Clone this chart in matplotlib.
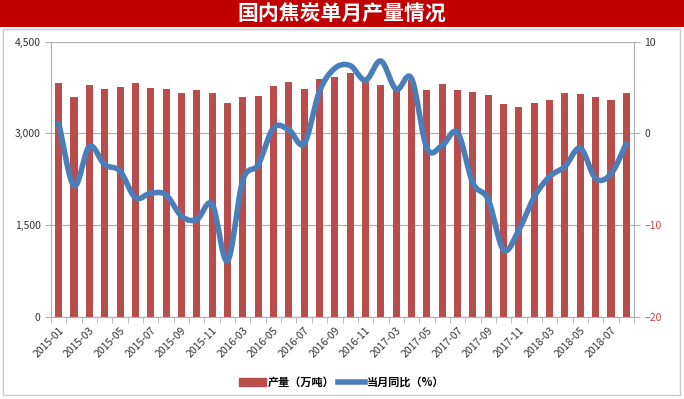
import matplotlib
matplotlib.use("Agg")
import matplotlib.pyplot as plt
from matplotlib.patches import Rectangle
from matplotlib.lines import Line2D
import numpy as np

plt.rcParams['font.family'] = ['Noto Sans CJK SC', 'DejaVu Sans']

# months (Jan/Feb of 2016-2018 are reported together, so they are missing)
months = (['2015-%02d' % m for m in range(1, 13)] +
          ['2016-%02d' % m for m in range(3, 13)] +
          ['2017-%02d' % m for m in range(3, 13)] +
          ['2018-%02d' % m for m in range(3, 9)])

# monthly coke output (10k tonnes)
output = [3820, 3590, 3785, 3725, 3760, 3830, 3750, 3725, 3660, 3710,
          3660, 3505, 3600, 3615, 3775, 3845, 3725, 3895, 3930, 3985,
          3870, 3790, 3710, 3875, 3710, 3815, 3710, 3685, 3630, 3475,
          3435, 3505, 3550, 3660, 3645, 3600, 3550, 3660]

# year-on-year change (%)
yoy = [1.1, -5.7, -1.4, -3.4, -4.1, -7.0, -6.5, -6.7, -9.0, -9.4,
       -7.7, -13.9, -5.1, -3.4, 0.6, 0.4, -1.1, 4.6, 7.1, 7.4,
       5.8, 7.9, 4.8, 6.0, -1.6, -1.3, 0.1, -5.4, -7.2, -12.7,
       -10.5, -6.9, -4.7, -3.6, -1.6, -4.9, -4.4, -1.1]


def smooth(x, y, n=12):
    """Catmull-Rom curve through the points, like Excel's smoothed line"""
    x = np.asarray(x, float)
    y = np.asarray(y, float)
    px = np.concatenate([[2 * x[0] - x[1]], x, [2 * x[-1] - x[-2]]])
    py = np.concatenate([[2 * y[0] - y[1]], y, [2 * y[-1] - y[-2]]])
    t = np.linspace(0, 1, n, endpoint=False)
    xs, ys = [], []
    for i in range(1, len(px) - 2):
        for p, out in ((px, xs), (py, ys)):
            p0, p1, p2, p3 = p[i - 1], p[i], p[i + 1], p[i + 2]
            out.extend(0.5 * (2 * p1 + (-p0 + p2) * t
                              + (2 * p0 - 5 * p1 + 4 * p2 - p3) * t ** 2
                              + (-p0 + 3 * p1 - 3 * p2 + p3) * t ** 3))
    xs.append(x[-1])
    ys.append(y[-1])
    return np.array(xs), np.array(ys)


bar_color = '#B94D4B'
line_color = '#4A7EBB'
grid_color = '#B0B0B0'

fig = plt.figure(figsize=(6.84, 3.99), dpi=100)

# red title band and grey frame
fig.patches.append(Rectangle((0, 1 - 27 / 399), 1, 27 / 399, transform=fig.transFigure,
                             facecolor='#C00000', edgecolor='none', zorder=0))
fig.patches.append(Rectangle((3 / 684, 4 / 399), 677 / 684, 366 / 399, transform=fig.transFigure,
                             facecolor='none', edgecolor='#C8C8C8', lw=1, zorder=0))
fig.text(0.5, 1 - 14 / 399, '国内焦炭单月产量情况', color='white', fontsize=15,
         fontweight='bold', ha='center', va='center')

ax = fig.add_axes([51 / 684, 1 - 317 / 399, 583 / 684, 275.3 / 399])
x = np.arange(len(months))
ax.bar(x, output, width=0.46, color=bar_color, zorder=2)
ax.set_xlim(-0.5, len(months) - 0.5)
ax.set_ylim(0, 4500)
ax.set_yticks([0, 1500, 3000, 4500])
ax.set_yticklabels(['0', '1,500', '3,000', '4,500'])
ax.yaxis.grid(True, color=grid_color, lw=0.9, zorder=0)
ax.set_axisbelow(True)

ax.set_xticks(x[::2])
ax.set_xticklabels(months[::2], rotation=45, ha='right', rotation_mode='anchor')
ax.set_xticks(np.arange(len(months) + 1) - 0.5, minor=True)
ax.tick_params(axis='x', which='major', length=0, labelsize=7.5, colors='#333333', pad=6)
ax.tick_params(axis='x', which='minor', length=4, color=grid_color)
ax.tick_params(axis='y', length=4, color=grid_color, labelsize=7.5, labelcolor='#333333')
for s in ['top', 'right']:
    ax.spines[s].set_visible(False)
for s in ['left', 'bottom']:
    ax.spines[s].set_color(grid_color)

ax2 = ax.twinx()
sx, sy = smooth(x, yoy)
ax2.plot(sx, sy, color=line_color, lw=4, solid_capstyle='round', zorder=3)
ax2.set_ylim(-20, 10)
ax2.set_yticks([-20, -10, 0, 10])
ax2.tick_params(axis='y', length=4, color=grid_color, labelsize=7.5, labelcolor='#333333')
for lab, v in zip(ax2.get_yticklabels(), [-20, -10, 0, 10]):
    if v < 0:
        lab.set_color('#D04040')
for s in ['top', 'left', 'bottom']:
    ax2.spines[s].set_visible(False)
ax2.spines['right'].set_color(grid_color)

handles = [Rectangle((0, 0), 1, 1, color=bar_color),
           Line2D([], [], color=line_color, lw=4)]
fig.legend(handles, ['产量（万吨）', '当月同比（%）'], loc='center',
           bbox_to_anchor=(0.5, 1 - 382 / 399), ncol=2, frameon=False,
           handlelength=2.4, handletextpad=0.2, columnspacing=0.3,
           prop={'weight': 'bold', 'size': 8})

fig.savefig('out.png', dpi=100)
